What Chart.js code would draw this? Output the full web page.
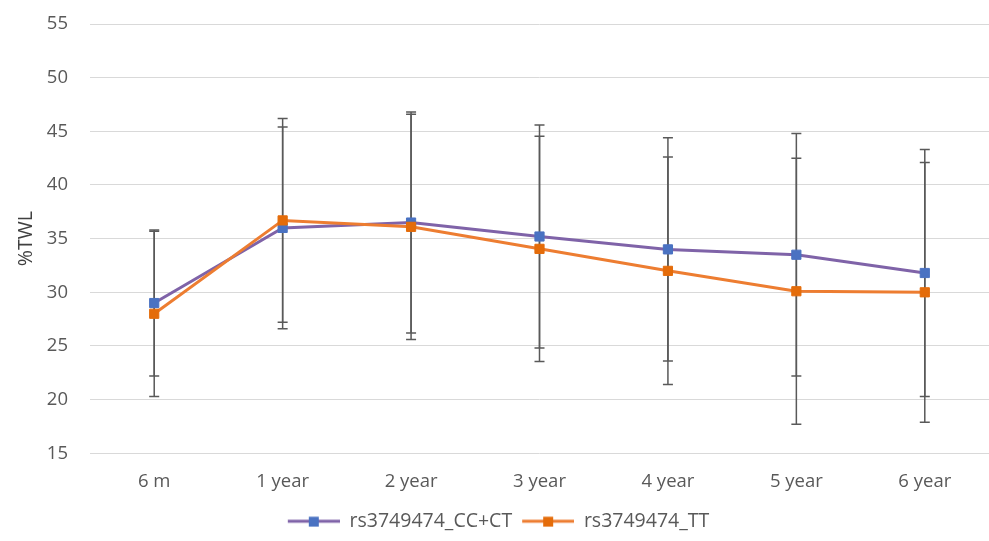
<!DOCTYPE html>
<html>
<head>
<meta charset="utf-8">
<script src="https://cdn.jsdelivr.net/npm/chart.js@4.4.1/dist/chart.umd.min.js"></script>
<style>
    html, body { margin: 0; padding: 0; background: #ffffff; }
    #wrap { width: 989px; height: 541px; }
</style>
</head>
<body>
<div id="wrap"><canvas id="twlChart" width="989" height="541"></canvas></div>
<script>
const categories = ["6 m", "1 year", "2 year", "3 year", "4 year", "5 year", "6 year"];

const ccctLabel = "rs3749474_CC+CT";
const ccctMean = [29.0, 36.0, 36.5, 35.2, 34.0, 33.5, 31.8];
const ccctSd = [6.8, 9.4, 10.3, 10.4, 10.4, 11.3, 11.5];

const ttLabel = "rs3749474_TT";
const ttMean = [28.0, 36.7, 36.1, 34.05, 32.0, 30.1, 30.0];
const ttSd = [7.7, 9.5, 10.5, 10.5, 10.6, 12.4, 12.1];

const yTicks = [15, 20, 25, 30, 35, 40, 45, 50, 55];

const FONT = "'Open Sans', 'Liberation Sans', sans-serif";
const TEXT_COLOR = "#595959";

// line + square swatch for the legend, with a blank gap on the left
function legendSwatch(lineColor, markerColor) {
    const c = document.createElement("canvas");
    c.width = 60;
    c.height = 12;
    const ctx = c.getContext("2d");
    ctx.strokeStyle = lineColor;
    ctx.lineWidth = 3;
    ctx.beginPath();
    ctx.moveTo(8, 6);
    ctx.lineTo(60, 6);
    ctx.stroke();
    ctx.fillStyle = markerColor;
    ctx.fillRect(29, 1.5, 10, 10);
    return c;
}

const errorBars = {
    id: "errorBars",
    beforeDatasetsDraw(chart) {
        const { ctx, scales: { x, y } } = chart;
        ctx.save();
        ctx.strokeStyle = "#595959";
        ctx.lineWidth = 1.5;
        chart.data.datasets.forEach((ds) => {
            ds.data.forEach((v, i) => {
                const px = x.getPixelForValue(i);
                const top = y.getPixelForValue(v + ds.sd[i]);
                const bot = y.getPixelForValue(v - ds.sd[i]);
                ctx.beginPath();
                ctx.moveTo(px, top);
                ctx.lineTo(px, bot);
                ctx.moveTo(px - 5, top);
                ctx.lineTo(px + 5, top);
                ctx.moveTo(px - 5, bot);
                ctx.lineTo(px + 5, bot);
                ctx.stroke();
            });
        });
        ctx.restore();
    },
};

new Chart(document.getElementById("twlChart"), {
    type: "line",
    data: {
        labels: categories,
        datasets: [
            {
                label: ccctLabel,
                data: ccctMean,
                sd: ccctSd,
                borderColor: "#7F63A8",
                backgroundColor: "#4A72C2",
                pointBackgroundColor: "#4A72C2",
                pointBorderColor: "#4A72C2",
                borderWidth: 3,
                pointStyle: "rect",
                pointRadius: 6.5,
                pointBorderWidth: 1,
                tension: 0,
                order: 1,
                swatch: legendSwatch("#7F63A8", "#4A72C2"),
            },
            {
                label: ttLabel,
                data: ttMean,
                sd: ttSd,
                borderColor: "#ED7D31",
                backgroundColor: "#E46C0A",
                pointBackgroundColor: "#E46C0A",
                pointBorderColor: "#E46C0A",
                borderWidth: 3,
                pointStyle: "rect",
                pointRadius: 6.5,
                pointBorderWidth: 1,
                tension: 0,
                order: 0,
                swatch: legendSwatch("#ED7D31", "#E46C0A"),
            },
        ],
    },
    options: {
        responsive: false,
        animation: false,
        layout: { autoPadding: false, padding: { top: 24, right: 0, bottom: 0, left: 0 } },
        plugins: {
            tooltip: { enabled: false },
            legend: {
                position: "bottom",
                labels: {
                    usePointStyle: true,
                    pointStyleWidth: 60,
                    boxHeight: 12,
                    padding: 2,
                    color: TEXT_COLOR,
                    font: { family: FONT, size: 19.5 },
                    generateLabels(chart) {
                        return chart.data.datasets.map((ds, i) => ({
                            text: ds.label,
                            pointStyle: ds.swatch,
                            fillStyle: ds.borderColor,
                            strokeStyle: ds.borderColor,
                            lineWidth: 0,
                            fontColor: TEXT_COLOR,
                            hidden: false,
                            datasetIndex: i,
                        }));
                    },
                },
            },
        },
        scales: {
            x: {
                offset: true,
                grid: { display: false, drawTicks: false },
                border: { display: false },
                ticks: { color: TEXT_COLOR, padding: 17, font: { family: FONT, size: 18.5 } },
                afterFit(scale) {
                    scale.paddingLeft = 0;
                    scale.paddingRight = 0;
                },
            },
            y: {
                min: 15,
                max: 55,
                afterBuildTicks(scale) {
                    scale.ticks = yTicks.map((v) => ({ value: v }));
                },
                afterFit(scale) {
                    scale.width = 90;
                    scale.paddingTop = 0;
                    scale.paddingBottom = 0;
                },
                grid: { color: "#D9D9D9", lineWidth: 1, drawTicks: false },
                border: { display: false },
                ticks: { color: TEXT_COLOR, padding: 22, font: { family: FONT, size: 18.5 } },
                title: {
                    display: true,
                    text: "%TWL",
                    color: "#404040",
                    padding: { top: 15, bottom: 0 },
                    font: { family: FONT, size: 19.5 },
                },
            },
        },
    },
    plugins: [errorBars],
});
</script>
</body>
</html>
